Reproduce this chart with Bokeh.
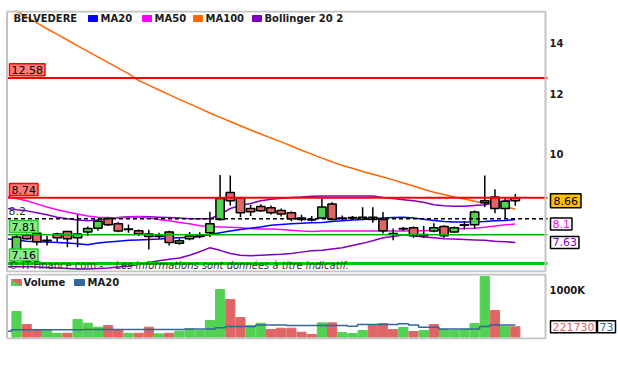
import math
from bokeh.plotting import figure
from bokeh.models import Range1d, Label
from bokeh.layouts import column
from bokeh.embed import file_html
from bokeh.resources import INLINE

FONT = "DejaVu Sans"

# ---------------- data ----------------
ticker_name = "BELVEDERE"
idx = list(range(50))
opens = [7.45, 7.80, 7.85, 7.67, 7.83, 7.89, 7.74, 7.88, 7.97, 8.21,
         8.08, 7.94, 7.91, 7.83, 7.77, 7.88, 7.61, 7.72, 7.77, 7.86,
         8.18, 8.88, 8.74, 8.46, 8.51, 8.48, 8.41, 8.35, 8.22, 8.18,
         8.22, 8.58, 8.21, 8.22, 8.23, 8.24, 8.18, 7.84, 7.95, 7.98,
         7.79, 7.90, 8.01, 7.88, 8.04, 8.05, 8.61, 8.76, 8.46, 8.74]
highs = [7.80, 7.84, 7.89, 7.78, 7.86, 7.91, 8.30, 8.01, 8.20, 8.24,
         8.12, 8.06, 7.94, 7.93, 7.86, 7.91, 7.72, 7.88, 7.87, 8.38,
         9.37, 9.35, 8.77, 8.55, 8.57, 8.54, 8.46, 8.39, 8.30, 8.27,
         8.72, 8.62, 8.28, 8.27, 8.49, 8.49, 8.37, 7.96, 8.00, 8.01,
         8.03, 8.09, 8.04, 8.01, 8.13, 8.41, 9.35, 8.97, 8.76, 8.84]
lows = [7.40, 7.70, 7.56, 7.56, 7.65, 7.52, 7.52, 7.78, 7.91, 8.02,
        7.87, 7.86, 7.78, 7.47, 7.72, 7.56, 7.58, 7.68, 7.73, 7.76,
        8.16, 8.54, 8.24, 8.27, 8.38, 8.31, 8.26, 8.14, 8.14, 8.13,
        8.20, 8.16, 8.17, 8.19, 8.17, 8.10, 7.84, 7.68, 7.91, 7.74,
        7.74, 7.87, 7.74, 7.86, 7.94, 7.96, 8.50, 8.34, 8.20, 8.53]
closes = [7.76, 7.72, 7.65, 7.68, 7.74, 7.72, 7.83, 7.96, 8.14, 8.05,
          7.90, 7.95, 7.83, 7.77, 7.78, 7.63, 7.67, 7.78, 7.79, 8.08,
          8.72, 8.66, 8.35, 8.38, 8.40, 8.35, 8.32, 8.20, 8.18, 8.17,
          8.50, 8.18, 8.22, 8.23, 8.24, 8.18, 7.91, 7.83, 7.96, 7.79,
          7.82, 7.98, 7.79, 7.98, 8.05, 8.37, 8.66, 8.46, 8.65, 8.66]

# volume in thousands, and whether the volume bar is green
volume_k = [546, 270, 156, 156, 85, 85, 376, 298, 213, 248,
            156, 85, 85, 213, 71, 85, 128, 177, 142, 355,
            1014, 801, 418, 248, 298, 163, 191, 191, 106, 57,
            305, 305, 99, 78, 142, 248, 291, 163, 206, 121,
            142, 270, 163, 142, 163, 291, 1291, 567, 227, 221.73]
volume_up = [1, 0, 0, 1, 1, 0, 1, 1, 1, 0,
             0, 1, 0, 0, 1, 0, 1, 1, 1, 1,
             1, 0, 0, 1, 1, 0, 0, 0, 0, 0,
             1, 0, 1, 1, 1, 0, 0, 0, 1, 0,
             1, 0, 1, 1, 1, 1, 1, 0, 1, 0]

# indicator lines, from session -1 (left edge) to session 49
ma_x = list(range(-1, 50))
ma20 = [7.72, 7.69, 7.66, 7.65, 7.64, 7.63, 7.62, 7.60, 7.58, 7.62, 7.64,
        7.66, 7.68, 7.69, 7.70, 7.71, 7.73, 7.74, 7.75, 7.77, 7.82,
        7.86, 7.90, 7.94, 7.97, 8.00, 8.04, 8.06, 8.08, 8.09, 8.10,
        8.11, 8.13, 8.15, 8.17, 8.18, 8.20, 8.22, 8.23, 8.24, 8.22,
        8.19, 8.16, 8.13, 8.12, 8.12, 8.12, 8.13, 8.15, 8.16, 8.18]
ma50 = [8.78, 8.72, 8.66, 8.58, 8.50, 8.43, 8.37, 8.32, 8.27, 8.24, 8.23,
        8.22, 8.24, 8.25, 8.22, 8.18, 8.15, 8.11, 8.08, 8.03, 8.01,
        8.00, 7.99, 7.98, 7.96, 7.95, 7.95, 7.94, 7.92, 7.90, 7.89,
        7.90, 7.90, 7.90, 7.90, 7.90, 7.90, 7.90, 7.90, 7.90, 7.90,
        7.91, 7.92, 7.94, 7.95, 7.96, 7.97, 7.99, 8.02, 8.05, 8.07]
ma100 = [15.75, 15.42, 15.14, 14.87, 14.61, 14.36, 14.12, 13.87, 13.64, 13.41, 13.18,
         12.96, 12.75, 12.48, 12.31, 12.13, 11.96, 11.79, 11.63, 11.47, 11.31,
         11.16, 11.02, 10.88, 10.74, 10.61, 10.48, 10.36, 10.23, 10.10, 9.98,
         9.86, 9.75, 9.64, 9.56, 9.47, 9.39, 9.31, 9.23, 9.14, 9.06,
         8.97, 8.89, 8.83, 8.76, 8.71, 8.65, 8.60, 8.55, 8.50, 8.45]
boll_up = [8.47, 8.43, 8.40, 8.35, 8.30, 8.24, 8.20, 8.17, 8.15, 8.17, 8.20,
           8.23, 8.25, 8.26, 8.25, 8.24, 8.23, 8.22, 8.20, 8.20, 8.20,
           8.31, 8.46, 8.54, 8.59, 8.66, 8.70, 8.73, 8.75, 8.76, 8.78,
           8.79, 8.79, 8.79, 8.79, 8.79, 8.79, 8.75, 8.72, 8.69, 8.66,
           8.62, 8.56, 8.53, 8.52, 8.52, 8.54, 8.56, 8.60, 8.66, 8.71]
boll_low = [7.09, 7.09, 7.09, 7.08, 7.07, 7.06, 7.05, 7.04, 7.04, 7.05, 7.06,
            7.08, 7.10, 7.14, 7.18, 7.22, 7.25, 7.28, 7.34, 7.42, 7.51,
            7.45, 7.38, 7.34, 7.33, 7.34, 7.35, 7.36, 7.38, 7.41, 7.44,
            7.45, 7.48, 7.51, 7.56, 7.61, 7.67, 7.74, 7.77, 7.81, 7.79,
            7.76, 7.74, 7.72, 7.71, 7.70, 7.69, 7.68, 7.66, 7.65, 7.63]
vol_ma_x = list(range(-1, 50))
vol_ma20_k = [128, 156, 156, 156, 156, 156, 156, 156, 163, 163, 163,
              163, 163, 163, 163, 163, 163, 163, 177, 177, 177,
              199, 227, 227, 227, 262, 262, 262, 248, 248, 248,
              248, 248, 248, 234, 270, 270, 270, 270, 284, 262,
              213, 213, 177, 177, 177, 177, 227, 262, 262, 262]

price_ticks = [10, 12, 14]
volume_ticks = [1000]
red_levels = [12.58, 8.74]
green_levels = [7.81, 7.16]
dashed_level = 8.2
vol_ma_label = "73"

# ---------------- colours ----------------
GREEN = "#52d152"
RED = "#e06666"
BLUE = "#0000ff"
MAGENTA = "#ff00ff"
ORANGE = "#ff6600"
PURPLE = "#7f00c0"
STEEL = "#336699"
FRAME = "#c4c4c4"

# ---------------- reference-pixel helpers (layout only) ----------------
def X(px):
    return (px - 16.0) / 10.18

def Y(py):
    return 10.0 * math.exp((153.0 - py) / 329.0)

def V(py):
    return (336.7 - py) / 0.047

def lift(level, px):
    return level * math.exp(px / 329.0)

W = 618

def box(p, x, y, text, fill, border, color="black", size="11px", pad=2):
    p.add_layout(Label(x=x, y=y, text=text, text_font=FONT, text_font_size=size,
                       text_color=color, text_align="left", text_baseline="middle",
                       background_fill_color=fill, border_line_color=border,
                       border_line_width=1.5, padding=pad))

def txt(p, x, y, text, size="10px", style="bold", color="#1a1a1a"):
    p.add_layout(Label(x=x, y=y, text=text, text_font=FONT, text_font_size=size,
                       text_font_style=style, text_color=color,
                       text_align="left", text_baseline="middle"))

def panel_frame(p, fy):
    x0, x1 = X(6.5), X(545)
    y0, y1 = fy
    p.segment(x0=[x0, x0, x0, x1], y0=[y0, y1, y0, y0],
              x1=[x1, x1, x0, x1], y1=[y0, y1, y1, y1],
              line_color=FRAME, line_width=2)

# ---------------- price panel ----------------
p1 = figure(width=W, height=273, x_range=Range1d(X(5), X(W)),
            y_range=Range1d(Y(272), Y(10)), y_axis_type="log",
            x_axis_location=None, y_axis_location=None,
            toolbar_location=None, output_backend="svg", title=None,
            min_border_left=5, min_border_right=0, min_border_top=10,
            min_border_bottom=1, background_fill_color="white",
            border_fill_color="white", outline_line_color=None)
p1.grid.visible = False

for ys, col in ((ma100, ORANGE), (boll_up, PURPLE), (boll_low, PURPLE),
                (ma50, MAGENTA), (ma20, BLUE)):
    p1.line(ma_x, ys, line_color=col, line_width=1.5)

tops = [max(o, c) for o, c in zip(opens, closes)]
bottoms = [min(o, c) for o, c in zip(opens, closes)]
body_cols = [GREEN if c > o else (RED if c < o else "black") for o, c in zip(opens, closes)]
p1.segment(x0=idx, y0=highs, x1=idx, y1=lows, line_color="black", line_width=1.5)
p1.vbar(x=idx, width=0.82, top=tops, bottom=bottoms, fill_color=body_cols,
        line_color="black", line_width=1.5)

LX0, LX1 = X(6.5), X(547)
p1.segment(x0=[LX0] * 2, y0=red_levels, x1=[LX1] * 2, y1=red_levels,
           line_color="#ff0000", line_width=2)
p1.segment(x0=[LX0], y0=[dashed_level], x1=[LX1], y1=[dashed_level],
           line_color="black", line_width=1.5, line_dash="4 3")
p1.segment(x0=[LX0], y0=[green_levels[0]], x1=[LX1], y1=[green_levels[0]],
           line_color="#00b400", line_width=1.5)
p1.segment(x0=[LX0], y0=[green_levels[1]], x1=[LX1], y1=[green_levels[1]],
           line_color="#00cc00", line_width=3)

panel_frame(p1, (Y(11), Y(271)))

# price tick labels (right)
for t in price_ticks:
    txt(p1, X(549), t, str(t))

# left level labels
box(p1, X(9), lift(red_levels[0], 8.3), "%.2f" % red_levels[0], "#ff7b7b", "#ff0000")
box(p1, X(9), lift(red_levels[1], 8.3), "%.2f" % red_levels[1], "#ff7b7b", "#ff0000")
box(p1, X(9), lift(green_levels[0], 8.3), "%.2f" % green_levels[0], "#86ee86", "#22cc22")
box(p1, X(9), lift(green_levels[1], 8.3), "%.2f" % green_levels[1], "#86ee86", "#22cc22")
txt(p1, X(8), lift(dashed_level, 7.3), "%g" % dashed_level, size="11px", style="normal", color="#333333")

# watermark
txt(p1, X(8), Y(265), "\u00a9 IT-Finance.com  - ", style="normal", color="#333333")
txt(p1, X(115), Y(265), "Les informations sont donn\u00e9es \u00e0 titre indicatif.",
    style="italic", color="#333333")

# legend
txt(p1, X(13), Y(18), ticker_name)
for (x0, lab, col) in ((88, "MA20", BLUE), (142, "MA50", MAGENTA),
                       (193, "MA100", ORANGE), (252, "Bollinger 20 2", PURPLE)):
    p1.quad(left=X(x0), right=X(x0 + 9), top=Y(15), bottom=Y(21), color=col)
    txt(p1, X(x0 + 12), Y(18), lab)

# right value labels
box(p1, X(550), closes[-1], "%.2f" % closes[-1], "#ffc000", "black", pad=3)
box(p1, X(550), ma50[-1], "%.1f" % ma50[-1], "white", "black", color=MAGENTA)
box(p1, X(550), boll_low[-1], "%.2f" % boll_low[-1], "white", "black", color=PURPLE)

# ---------------- volume panel ----------------
p2 = figure(width=W, height=69, x_range=p1.x_range,
            y_range=Range1d(V(339), V(273)),
            x_axis_location=None, y_axis_location=None,
            toolbar_location=None, output_backend="svg", title=None,
            min_border_left=5, min_border_right=0, min_border_top=0,
            min_border_bottom=3, background_fill_color="white",
            border_fill_color="white", outline_line_color=None)
p2.grid.visible = False

p2.vbar(x=idx, width=0.9, top=volume_k, bottom=0,
        color=[GREEN if u else RED for u in volume_up])
p2.step(vol_ma_x, vol_ma20_k, mode="center", line_color=STEEL, line_width=1.5)

panel_frame(p2, (V(274), V(338)))

for t in volume_ticks:
    txt(p2, X(549), t, "%dK" % t)

# legend
p2.patch([X(11), X(21), X(11)], [V(285), V(285), V(279)], color=GREEN)
p2.patch([X(11), X(21), X(21)], [V(279), V(279), V(285)], color=RED)
txt(p2, X(23), V(282), "Volume")
p2.quad(left=X(74), right=X(84), top=V(279), bottom=V(285), color=STEEL)
txt(p2, X(87), V(282), "MA20")

box(p2, X(597), volume_k[-1], vol_ma_label, "white", "black", color=STEEL)
box(p2, X(550), volume_k[-1], "%d" % round(volume_k[-1] * 1000), "white", "black", color="#e06060")

layout = column(p1, p2)
with open("out.html", "w") as f:
    f.write(file_html(layout, INLINE, title="BELVEDERE"))
